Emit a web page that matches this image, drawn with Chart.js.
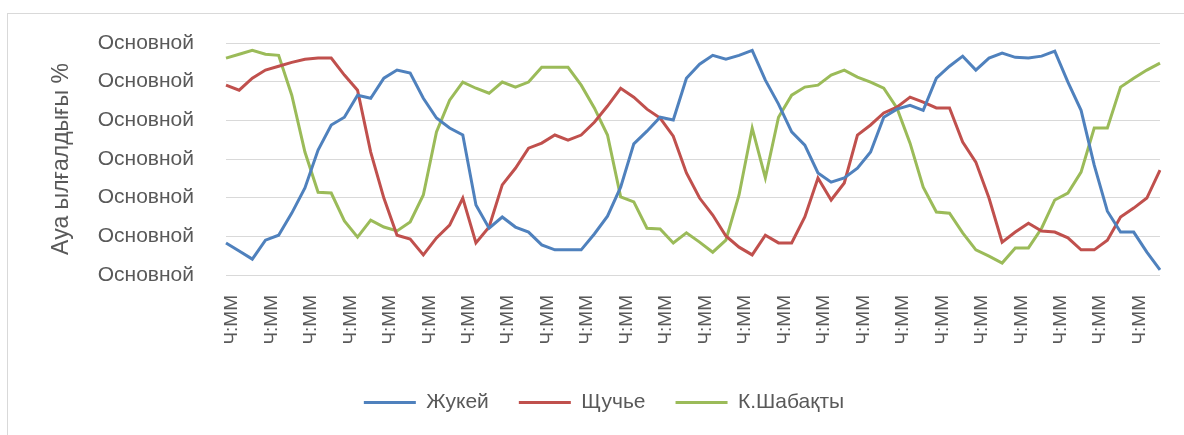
<!DOCTYPE html>
<html>
<head>
<meta charset="utf-8">
<script src="https://cdn.jsdelivr.net/npm/chart.js@4/dist/chart.umd.min.js"></script>
<style>
  html, body { margin: 0; padding: 0; background: #ffffff; }
  canvas { display: block; }
</style>
</head>
<body>
<canvas id="chart" width="1184" height="435"></canvas>
<script>
// Time-axis labels (one label every third reading)
const xTickLabels = [
  'Ч:ММ','Ч:ММ','Ч:ММ','Ч:ММ','Ч:ММ','Ч:ММ','Ч:ММ','Ч:ММ',
  'Ч:ММ','Ч:ММ','Ч:ММ','Ч:ММ','Ч:ММ','Ч:ММ','Ч:ММ','Ч:ММ',
  'Ч:ММ','Ч:ММ','Ч:ММ','Ч:ММ','Ч:ММ','Ч:ММ','Ч:ММ','Ч:ММ'
];
const readingsPerLabel = 3;

// Value-axis labels, bottom to top
const yTickLabels = ['Основной','Основной','Основной','Основной','Основной','Основной','Основной'];

const seriesNames = ['Жукей', 'Щучье', 'К.Шабақты'];

// Relative humidity, %
const zhukei = [
  48.3, 46.2, 44.1, 49.0, 50.3, 56.0, 62.5, 72.3, 78.8, 80.8, 86.5, 85.7,
  90.9, 93.0, 92.2, 85.7, 80.6, 78.0, 76.2, 58.1, 52.1, 55.0, 52.4, 51.1,
  47.8, 46.5, 46.5, 46.5, 50.6, 55.2, 62.7, 73.9, 77.2, 80.8, 80.1, 90.9,
  94.5, 96.8, 95.8, 96.8, 98.1, 90.4, 84.2, 77.0, 73.6, 66.4, 64.0, 65.1,
  67.6, 71.8, 80.8, 82.9, 83.9, 82.6, 90.9, 94.0, 96.6, 93.0, 96.1, 97.4,
  96.3, 96.1, 96.6, 97.9, 89.9, 82.6, 68.4, 56.5, 51.1, 51.1, 45.9, 41.3
];
const shchuchye = [
  89.1, 87.8, 90.9, 93.0, 94.0, 95.0, 95.8, 96.1, 96.1, 91.7, 87.8, 71.8,
  59.9, 50.3, 49.3, 45.2, 49.6, 52.9, 59.9, 48.3, 52.4, 63.3, 67.6, 72.8,
  74.1, 76.2, 74.9, 76.2, 79.5, 83.7, 88.3, 86.0, 82.9, 80.6, 75.9, 66.4,
  59.9, 55.5, 50.1, 47.2, 45.2, 50.3, 48.3, 48.3, 55.0, 65.1, 59.4, 63.8,
  76.2, 78.8, 81.9, 83.4, 86.0, 84.7, 83.2, 83.2, 74.4, 69.2, 59.9, 48.5,
  51.1, 53.4, 51.4, 51.1, 49.6, 46.5, 46.5, 49.0, 55.0, 57.3, 59.9, 67.1
];
const kShabakty = [
  96.1, 97.1, 98.1, 97.1, 96.8, 86.5, 71.8, 61.4, 61.2, 54.0, 49.8, 54.2,
  52.4, 51.4, 53.7, 60.7, 77.0, 85.2, 89.9, 88.3, 87.0, 89.9, 88.6, 89.9,
  93.7, 93.7, 93.7, 89.1, 83.2, 76.2, 60.2, 58.9, 52.1, 51.9, 48.3, 50.9,
  48.5, 45.9, 49.0, 60.7, 78.0, 65.1, 80.8, 86.5, 88.6, 89.1, 91.7, 93.0,
  91.2, 89.9, 88.3, 83.2, 74.1, 62.7, 56.3, 56.0, 50.9, 46.5, 44.9, 43.1,
  47.0, 47.0, 52.1, 59.4, 61.2, 66.6, 78.0, 78.0, 88.6, 90.9, 93.0, 94.8
];

const Y_MIN = 40, Y_MAX = 100, Y_STEP = 10;

const textColor = '#595959';
const gridColor = '#d9d9d9';
const fontFamily = '"Liberation Sans", Arial, sans-serif';

// One category per reading; only every third one carries a label
const categories = zhukei.map((_, i) =>
  i % readingsPerLabel === 0 ? xTickLabels[i / readingsPerLabel] : '');

// White background and a thin frame around the chart object
const framePlugin = {
  id: 'frame',
  beforeDraw(chart) {
    const ctx = chart.ctx;
    ctx.save();
    ctx.fillStyle = '#ffffff';
    ctx.fillRect(0, 0, chart.width, chart.height);
    ctx.strokeStyle = gridColor;
    ctx.lineWidth = 1;
    ctx.strokeRect(7.5, 13.5, chart.width + 20, chart.height + 20);
    ctx.restore();
  }
};

const lineSet = (label, data, color) => ({
  label,
  data,
  borderColor: color,
  backgroundColor: color,
  borderWidth: 3,
  pointRadius: 0,
  pointHoverRadius: 0,
  pointStyle: 'line',
  tension: 0,
  fill: false
});

new Chart(document.getElementById('chart'), {
  type: 'line',
  data: {
    labels: categories,
    datasets: [
      lineSet(seriesNames[0], zhukei, '#4f81bd'),
      lineSet(seriesNames[1], shchuchye, '#c0504d'),
      lineSet(seriesNames[2], kShabakty, '#9bbb59')
    ]
  },
  options: {
    responsive: false,
    animation: false,
    events: [],
    layout: { padding: { left: 48, right: 24, top: 43, bottom: 12 } },
    plugins: {
      tooltip: { enabled: false },
      legend: {
        position: 'bottom',
        labels: {
          usePointStyle: true,
          pointStyleWidth: 52,
          padding: 30,
          color: textColor,
          font: { family: fontFamily, size: 21 }
        }
      }
    },
    scales: {
      x: {
        grid: { display: false },
        border: { display: false },
        ticks: {
          autoSkip: false,
          minRotation: 90,
          maxRotation: 90,
          padding: 12,
          labelOffset: 6,
          color: textColor,
          font: { family: fontFamily, size: 19 }
        },
        afterFit(scale) {
          scale.height = 87;
          scale.paddingLeft = 0;
          scale.paddingRight = 0;
        }
      },
      y: {
        min: Y_MIN,
        max: Y_MAX,
        grid: { color: gridColor, lineWidth: 1, drawTicks: false },
        border: { display: false },
        ticks: {
          stepSize: Y_STEP,
          padding: 32,
          color: textColor,
          font: { family: fontFamily, size: 21 },
          callback: (value, index) => yTickLabels[index]
        },
        title: {
          display: true,
          text: 'Ауа ылғалдығы %',
          color: textColor,
          font: { family: fontFamily, size: 23 },
          padding: { top: 0, bottom: 0 }
        },
        afterFit(scale) {
          scale.width = 178;
          scale.paddingTop = 0;
          scale.paddingBottom = 0;
        }
      }
    }
  },
  plugins: [framePlugin]
});
</script>
</body>
</html>
